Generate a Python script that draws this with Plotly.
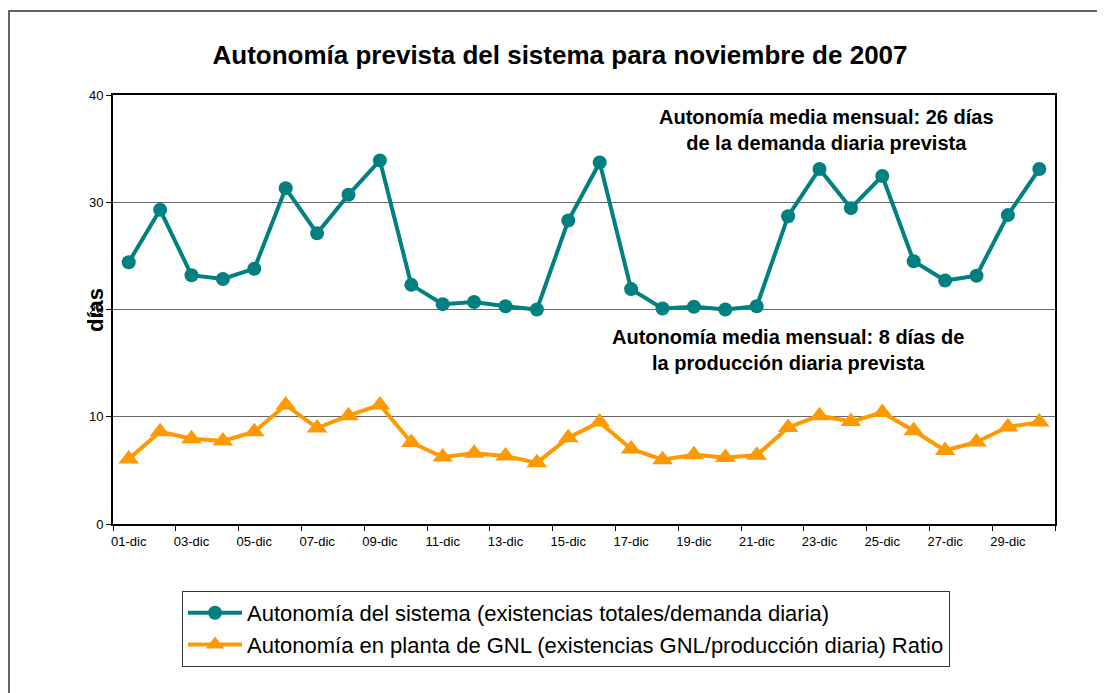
import plotly.graph_objects as go

days = [f"{d:02d}-dic" for d in range(1, 31)]

autonomia_sistema = [24.4, 29.3, 23.2, 22.85, 23.8, 31.3, 27.1, 30.7, 33.9, 22.3,
                     20.5, 20.7, 20.3, 20.0, 28.3, 33.7, 21.9, 20.1, 20.25, 20.0,
                     20.3, 28.7, 33.1, 29.45, 32.45, 24.5, 22.7, 23.15, 28.8, 33.1]

autonomia_gnl = [6.05, 8.6, 7.95, 7.75, 8.6, 11.1, 8.95, 10.1, 11.1, 7.6,
                 6.25, 6.6, 6.35, 5.7, 8.05, 9.5, 7.0, 6.0, 6.45, 6.2,
                 6.4, 9.0, 10.1, 9.55, 10.4, 8.7, 6.85, 7.65, 9.05, 9.5]

name_sistema = "Autonomía del sistema (existencias totales/demanda diaria)"
name_gnl = "Autonomía en planta de GNL (existencias GNL/producción diaria) Ratio"
title_text = "Autonomía prevista del sistema para noviembre de 2007"
note_demanda = "Autonomía media mensual: 26 días<br>de la demanda diaria prevista"
note_produccion = "Autonomía media mensual: 8 días de<br>la producción diaria prevista"

OFF = 8  # page body margin
W, H = 1105, 693
L, R, T, B = 113 - OFF, 1055 - OFF, 95 - OFF, 524 - OFF
pw, ph = R - L, B - T

def px(x):
    return (x - OFF - L) / pw

def py(y):
    return (B - (y - OFF)) / ph

fig = go.Figure()
fig.add_trace(go.Scatter(
    x=days, y=autonomia_sistema, name=name_sistema, mode="lines+markers",
    line=dict(color="#008080", width=4),
    marker=dict(symbol="circle", size=14, color="#008080"),
    legendgroup="a",
))
fig.add_trace(go.Scatter(
    x=days, y=autonomia_gnl, name=name_gnl, mode="lines+markers",
    line=dict(color="#FF9900", width=4),
    marker=dict(symbol="triangle-up", size=18, color="#FF9900"),
    legendgroup="b",
))

fig.update_layout(
    width=W, height=H,
    margin=dict(l=L, r=W - R, t=T, b=H - B),
    paper_bgcolor="white", plot_bgcolor="white",
    font=dict(family="Arial, Liberation Sans, sans-serif", color="black"),
    title=dict(text=title_text, x=(560 - OFF) / W, xref="container", xanchor="center",
               y=1 - (55 - OFF) / H, yref="container", yanchor="middle",
               font=dict(size=26, family="Arial, Liberation Sans, sans-serif", color="black", weight="bold")),
    showlegend=True,
    legend=dict(x=px(182), y=py(591), xanchor="left", yanchor="top",
                bordercolor="#333333", borderwidth=1, bgcolor="white",
                font=dict(size=22, color="black"),
                traceorder="grouped", tracegroupgap=0,
                itemwidth=54),
    xaxis=dict(type="category", tickmode="linear", tick0=0, dtick=2,
               tickson="boundaries", ticks="outside", ticklen=5, tickcolor="black",
               tickangle=0, ticklabelstandoff=4,
               showline=True, linecolor="black", linewidth=2, mirror=True,
               showgrid=False, zeroline=False,
               tickfont=dict(size=13, color="black"),
               range=[-0.5, 29.5]),
    yaxis=dict(range=[0, 40], tickmode="linear", tick0=0, dtick=10,
               ticks="outside", ticklen=5, tickcolor="black",
               showline=True, linecolor="black", linewidth=2, mirror=True,
               showgrid=True, gridcolor="#666666", gridwidth=1, zeroline=False,
               tickfont=dict(size=13, color="black")),
    shapes=[dict(type="rect", xref="paper", yref="paper",
                 x0=px(9), x1=px(1120), y0=py(710), y1=py(11),
                 line=dict(color="#333333", width=1.5), layer="below")],
    annotations=[
        dict(text="días", textangle=-90, xref="paper", yref="paper",
             x=px(95), y=py(310), showarrow=False, xanchor="center", yanchor="middle",
             font=dict(size=22, color="black", weight="bold")),
        dict(text=note_demanda, xref="paper", yref="paper",
             x=px(826), y=py(130), showarrow=False, xanchor="center", yanchor="middle",
             align="center", font=dict(size=20, color="black", weight="bold")),
        dict(text=note_produccion, xref="paper", yref="paper",
             x=px(788), y=py(350), showarrow=False, xanchor="center", yanchor="middle",
             align="center", font=dict(size=20, color="black", weight="bold")),
    ],
)

fig.write_html("out.html")
